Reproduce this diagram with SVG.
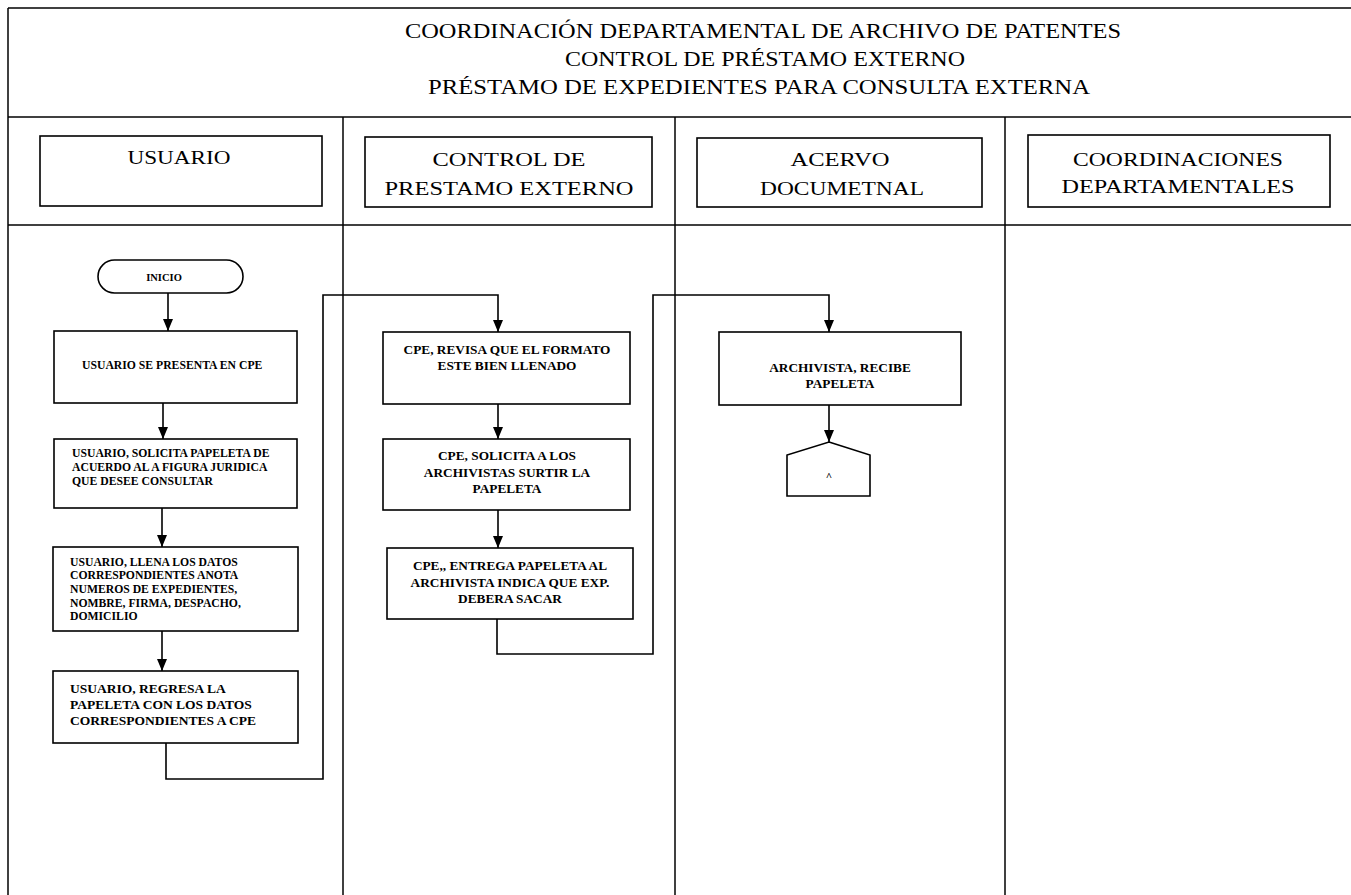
<svg xmlns="http://www.w3.org/2000/svg" width="1351" height="895" viewBox="0 0 1351 895">
<style>
.frame{fill:none;stroke:#000;stroke-width:1.5}
.box{fill:#fff;stroke:#000;stroke-width:1.6}
.conn{fill:none;stroke:#000;stroke-width:1.6}
.title{font-family:"Liberation Serif",serif;font-size:20px;fill:#000;text-anchor:middle}
.lane{font-family:"Liberation Serif",serif;font-size:19px;fill:#000;text-anchor:middle}
.t{font-family:"Liberation Serif",serif;font-size:11.7px;font-weight:bold;fill:#000}
.tb{font-family:"Liberation Serif",serif;font-size:13.5px;font-weight:bold;fill:#000}
.tc{font-family:"Liberation Serif",serif;font-size:13.3px;font-weight:bold;fill:#000;text-anchor:middle}
</style>
<defs>
<marker id="arr" viewBox="0 0 12 10" refX="12" refY="5" markerWidth="12" markerHeight="10" markerUnits="userSpaceOnUse" orient="auto">
<path d="M0,0 L12,5 L0,10 Z" fill="#000"/>
</marker>
</defs>
<rect width="1351" height="895" fill="#fff"/>
<g id="frame">
<line class="frame" x1="8" y1="8" x2="1351" y2="8"/>
<line class="frame" x1="8" y1="8" x2="8" y2="895"/>
<line class="frame" x1="8" y1="117" x2="1351" y2="117"/>
<line class="frame" x1="8" y1="225" x2="1351" y2="225"/>
<line class="frame" x1="343" y1="117" x2="343" y2="895"/>
<line class="frame" x1="675" y1="117" x2="675" y2="895"/>
<line class="frame" x1="1005" y1="117" x2="1005" y2="895"/>
</g>
<g id="title">
<text class="title" x="763" y="38" textLength="716" lengthAdjust="spacingAndGlyphs">COORDINACIÓN DEPARTAMENTAL  DE ARCHIVO DE PATENTES</text>
<text class="title" x="765" y="66" textLength="400" lengthAdjust="spacingAndGlyphs">CONTROL DE PRÉSTAMO EXTERNO</text>
<text class="title" x="759" y="94" textLength="662" lengthAdjust="spacingAndGlyphs">PRÉSTAMO DE EXPEDIENTES  PARA CONSULTA EXTERNA</text>
</g>
<g id="lane-usuario">
<rect class="box" x="40" y="136" width="282" height="70"/>
<text class="lane" x="179" y="164" textLength="103" lengthAdjust="spacingAndGlyphs">USUARIO</text>
</g>
<g id="lane-cpe">
<rect class="box" x="365" y="137" width="287" height="70"/>
<text class="lane" x="509" y="166" textLength="153" lengthAdjust="spacingAndGlyphs">CONTROL DE</text>
<text class="lane" x="509" y="195" textLength="249" lengthAdjust="spacingAndGlyphs">PRESTAMO EXTERNO</text>
</g>
<g id="lane-acervo">
<rect class="box" x="697" y="138" width="285" height="69"/>
<text class="lane" x="840" y="166" textLength="99" lengthAdjust="spacingAndGlyphs">ACERVO</text>
<text class="lane" x="842" y="195" textLength="164" lengthAdjust="spacingAndGlyphs">DOCUMETNAL</text>
</g>
<g id="lane-coord">
<rect class="box" x="1028" y="135" width="302" height="72"/>
<text class="lane" x="1178" y="166" textLength="210" lengthAdjust="spacingAndGlyphs">COORDINACIONES</text>
<text class="lane" x="1178" y="193" textLength="233" lengthAdjust="spacingAndGlyphs">DEPARTAMENTALES</text>
</g>
<g id="inicio">
<rect class="box" x="98" y="260" width="145" height="33" rx="16.5" ry="16.5"/>
<text class="tc" x="164" y="281" style="font-size:10.5px">INICIO</text>
</g>
<g id="n1">
<rect class="box" x="54" y="331" width="243" height="72"/>
<text class="t" x="82" y="369">USUARIO SE PRESENTA EN CPE</text>
</g>
<g id="n2">
<rect class="box" x="54" y="439" width="243" height="69"/>
<text class="t" x="72" y="457">USUARIO, SOLICITA PAPELETA DE</text>
<text class="t" x="72" y="471">ACUERDO AL A FIGURA JURIDICA</text>
<text class="t" x="72" y="485">QUE  DESEE CONSULTAR</text>
</g>
<g id="n3">
<rect class="box" x="53" y="547" width="245" height="84"/>
<text class="t" x="70" y="566">USUARIO, LLENA LOS DATOS</text>
<text class="t" x="70" y="579">CORRESPONDIENTES   ANOTA</text>
<text class="t" x="70" y="593">NUMEROS DE EXPEDIENTES,</text>
<text class="t" x="70" y="607">NOMBRE, FIRMA, DESPACHO,</text>
<text class="t" x="70" y="620">DOMICILIO</text>
</g>
<g id="n4">
<rect class="box" x="53" y="671" width="245" height="72"/>
<text class="tb" x="70" y="693">USUARIO, REGRESA LA</text>
<text class="tb" x="70" y="709">PAPELETA CON LOS DATOS</text>
<text class="tb" x="70" y="725">CORRESPONDIENTES A CPE</text>
</g>
<g id="n5">
<rect class="box" x="383" y="332" width="247" height="72"/>
<text class="tc" x="507" y="354">CPE, REVISA QUE EL FORMATO</text>
<text class="tc" x="507" y="370">ESTE BIEN LLENADO</text>
</g>
<g id="n6">
<rect class="box" x="383" y="439" width="247" height="71"/>
<text class="tc" x="507" y="460">CPE, SOLICITA A LOS</text>
<text class="tc" x="507" y="477">ARCHIVISTAS SURTIR LA</text>
<text class="tc" x="507" y="493">PAPELETA</text>
</g>
<g id="n7">
<rect class="box" x="387" y="548" width="246" height="71"/>
<text class="tc" x="510" y="570">CPE,, ENTREGA PAPELETA AL</text>
<text class="tc" x="510" y="587">ARCHIVISTA INDICA QUE EXP.</text>
<text class="tc" x="510" y="603">DEBERA SACAR</text>
</g>
<g id="n8">
<rect class="box" x="719" y="332" width="242" height="73"/>
<text class="tc" x="840" y="372">ARCHIVISTA, RECIBE</text>
<text class="tc" x="840" y="388">PAPELETA</text>
</g>
<g id="offpage-a">
<path class="box" d="M829,442 L870,455 L870,496 L787,496 L787,455 Z"/>
<text class="tc" x="829" y="480" style="font-size:11px">^</text>
</g>
<g id="connectors">
<line class="conn" x1="168" y1="293" x2="168" y2="331" marker-end="url(#arr)"/>
<line class="conn" x1="163" y1="403" x2="163" y2="439" marker-end="url(#arr)"/>
<line class="conn" x1="162" y1="508" x2="162" y2="547" marker-end="url(#arr)"/>
<line class="conn" x1="162" y1="631" x2="162" y2="671" marker-end="url(#arr)"/>
<polyline class="conn" points="166,743 166,779 323,779 323,295 498,295 498,332" marker-end="url(#arr)"/>
<line class="conn" x1="498" y1="404" x2="498" y2="439" marker-end="url(#arr)"/>
<line class="conn" x1="498" y1="510" x2="498" y2="548" marker-end="url(#arr)"/>
<polyline class="conn" points="497,619 497,654 653,654 653,295 829,295 829,332" marker-end="url(#arr)"/>
<line class="conn" x1="829" y1="405" x2="829" y2="442" marker-end="url(#arr)"/>
</g>
</svg>
